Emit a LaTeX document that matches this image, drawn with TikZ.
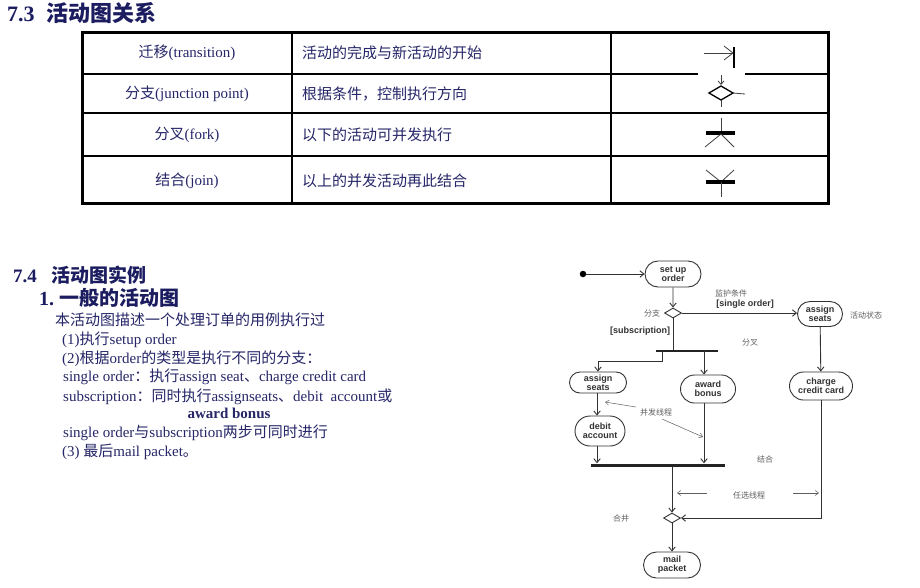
\documentclass[tikz,border=0pt]{standalone}
\usepackage{fontspec}
\setmainfont{Liberation Serif}
\setsansfont{Liberation Sans}
\newfontfamily\cjk{Noto Sans CJK SC}
\newcommand\zh[1]{{\cjk #1}}
\usetikzlibrary{arrows.meta,shapes.geometric,shapes.misc}
\definecolor{navy}{RGB}{28,28,96}
\definecolor{bodyc}{RGB}{38,38,105}
\definecolor{ln}{RGB}{50,50,50}
\definecolor{lbl}{RGB}{95,95,95}
\tikzset{
  headA/.style={anchor=west, text=navy, inner sep=0, font=\bfseries\fontsize{22}{24}\selectfont},
  headB/.style={anchor=west, text=navy, inner sep=0, font=\bfseries\fontsize{20}{22}\selectfont},
  body/.style={anchor=west, text=bodyc, inner sep=0, font=\fontsize{15}{16}\selectfont},
  cell/.style={text=bodyc, inner sep=0, font=\fontsize{15}{16}\selectfont},
  tline/.style={line width=1.4pt, black},
  icon/.style={line width=0.8pt, black!75},
  act/.style={draw=ln, line width=0.9pt, rounded rectangle, inner sep=1pt, align=center,
              font=\sffamily\bfseries\fontsize{9}{8.8}\selectfont, text=ln, fill=white},
  dia/.style={draw=ln, line width=0.9pt, diamond, inner sep=0, minimum width=17pt, minimum height=10pt, fill=white},
  bar/.style={fill=ln!70!black, draw=none, inner sep=0},
  arr/.style={draw=ln, line width=0.9pt, -{Straight Barb[length=4pt,width=6.5pt]}},
  plain/.style={draw=ln, line width=0.9pt},
  note/.style={draw=lbl, line width=0.5pt, -{Straight Barb[length=3.5pt,width=5pt]}},
  lab/.style={text=lbl, inner sep=0, font=\cjk\fontsize{8}{9}\selectfont},
  guard/.style={text=ln, inner sep=0, font=\sffamily\bfseries\fontsize{9}{10}\selectfont},
}
\begin{document}
\begin{tikzpicture}[x=1pt,y=-1pt]
\useasboundingbox (0,0) rectangle (920,587);
\fill[white] (0,0) rectangle (920,587);

% ---------- 7.3 ----------
\node[headA] (t73) at (7,13) {7.3\hspace{12pt}\zh{活动图关系}};

% table frame
\draw[line width=3pt, black] (82,32) rectangle (828,203);
\draw[tline] (292,32) -- (292,203);
\draw[tline] (611,32) -- (611,203);
\draw[tline] (82,74) -- (698,74);
\draw[tline] (745,74) -- (828,74);
\draw[tline] (82,113) -- (828,113);
\draw[tline] (82,156) -- (828,156);

% table texts
\node[cell] (c11) at (187,53) {\zh{迁移}(transition)};
\node[cell] (c21) at (187,94) {\zh{分支}(junction point)};
\node[cell] (c31) at (187,135) {\zh{分叉}(fork)};
\node[cell] (c41) at (187,181) {\zh{结合}(join)};
\node[cell, anchor=west] (c12) at (302,53) {\zh{活动的完成与新活动的开始}};
\node[cell, anchor=west] (c22) at (302,94) {\zh{根据条件，控制执行方向}};
\node[cell, anchor=west] (c32) at (302,135) {\zh{以下的活动可并发执行}};
\node[cell, anchor=west] (c42) at (302,181) {\zh{以上的并发活动再此结合}};

% icon: transition
\draw[icon] (704,53) -- (733,53);
\draw[icon] (724,46) -- (733,53) -- (724,60);
\draw[line width=2pt, black] (734,47) -- (734,68);
% icon: junction
\draw[line width=1.3pt, black] (709,93) -- (721,86) -- (733,93) -- (721,100) -- cycle;
\draw[icon, -{Straight Barb[length=3.5pt,width=6pt]}] (721,75) -- (721,85);
\draw[icon] (733,93) -- (745,94);
\draw[icon] (721,100) -- (721,107);
% icon: fork
\draw[icon] (721,118) -- (721,133);
\draw[line width=3.5pt, black] (706,133) -- (735,133);
\draw[icon] (721,134) -- (705,147);
\draw[icon] (721,134) -- (734,147);
% icon: join
\draw[icon] (706,170) -- (721,182);
\draw[icon] (734,170) -- (721,182);
\draw[line width=3.5pt, black] (706,182) -- (735,182);
\draw[icon] (721,182) -- (721,197);

% ---------- 7.4 ----------
\node[headB, font=\bfseries\fontsize{19}{21}\selectfont] (t74) at (13,275) {7.4\hspace{15pt}\zh{活动图实例}};
\node[headB] (t741) at (39,298) {1.\hspace{5pt}\zh{一般的活动图}};
\node[body] (b1) at (55,320) {\zh{本活动图描述一个处理订单的用例执行过}};
\node[body] (b2) at (62,340) {(1)\zh{执行}setup order};
\node[body] (b3) at (62,359) {(2)\zh{根据}order\zh{的类型是执行不同的分支：}};
\node[body] (b4) at (63,377) {single order\zh{：执行}assign seat\zh{、}charge credit card};
\node[body] (b5) at (63,397) {subscription\zh{：同时执行}assignseats\zh{、}debit\ \ account\zh{或}};
\node[body, anchor=center, font=\bfseries\fontsize{15}{16}\selectfont] (b6) at (229,413) {award bonus};
\node[body] (b7) at (63,433) {single order\zh{与}subscription\zh{两步可同时进行}};
\node[body] (b8) at (62,452) {(3) \zh{最后}mail packet\zh{。}};

% ---------- activity diagram ----------
\node[circle, fill=black, inner sep=0, minimum size=6.5pt] (init) at (583,274) {};
\node[act, minimum width=58pt, minimum height=26pt] (setup) at (673,274) {set up\\order};
\node[dia] (branch) at (673,313) {};
\node[act, minimum width=47pt, minimum height=25pt] (assignR) at (820,314) {assign\\seats};
\node[bar, minimum width=62pt, minimum height=2.5pt] (fork) at (687,351) {};
\node[act, minimum width=59pt, minimum height=21pt] (assignL) at (598,382.5) {assign\\seats};
\node[act, minimum width=57pt, minimum height=28pt] (award) at (708,389) {award\\bonus};
\node[act, minimum width=65pt, minimum height=28pt] (charge) at (821,386) {charge\\credit card};
\node[act, minimum width=52pt, minimum height=30pt] (debit) at (600,431) {debit\\account};
\node[bar, minimum width=134pt, minimum height=3pt] (join) at (658,465) {};
\node[dia] (merge) at (672,518) {};
\node[act, minimum width=59pt, minimum height=26pt] (mail) at (672,565) {mail\\packet};

\coordinate (fk1) at (662,351);
\coordinate (fk2) at (704,351);
\coordinate (xl) at (597,0);

\draw[arr] (init) -- (setup);
\draw[arr] (setup) -- (branch);
\draw[arr] (branch.east) -- (branch.east -| assignR.west);
\draw[plain] (branch) -- (branch |- fork.north);
\draw[arr] (fk1) -- ++(0,10) -| (assignL.north);
\draw[arr] (fk2) -- (fk2 |- award.north);
\draw[arr] (assignR) -- (charge);
\draw[arr] (assignL.south -| xl) -- (debit.north -| xl);
\draw[arr] (debit.south -| xl) -- (xl |- join.north);
\draw[arr] (fk2 |- award.south) -- (fk2 |- join.north);
\draw[arr] (merge |- join.south) -- (merge);
\draw[arr] (charge.south) |- (merge.east);
\draw[arr] (merge) -- (mail);

% labels
\node[lab] (lbranch) at (652,313) {分支};
\node[lab] (lguard) at (731,293) {监护条件};
\node[guard] (gsingle) at (745,304) {[single order]};
\node[lab] (lstate) at (866,315) {活动状态};
\node[guard] (gsub) at (640,331) {[subscription]};
\node[lab] (lfork) at (750,343) {分叉};
\node[lab] (lconc) at (656,412) {并发线程};
\node[lab] (ljoin) at (765,459) {结合};
\node[lab] (lopt) at (749,495) {任选线程};
\node[lab] (lmerge) at (621,518) {合并};

\coordinate (p1s) at (636,407);
\coordinate (p1e) at (605,402);
\coordinate (p2s) at (662,419);
\coordinate (p2e) at (703,437);
\coordinate (o1s) at (707,493);
\coordinate (o1e) at (677,493);
\coordinate (o2s) at (793,493);
\coordinate (o2e) at (819,493);
\draw[note] (p1s) -- (p1e);
\draw[note] (p2s) -- (p2e);
\draw[note] (o1s) -- (o1e);
\draw[note] (o2s) -- (o2e);
\end{tikzpicture}
\end{document}
